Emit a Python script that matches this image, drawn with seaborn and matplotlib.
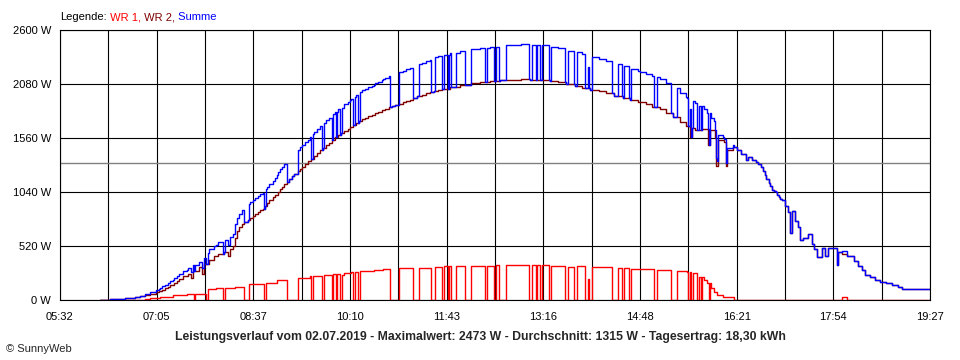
import numpy as np
import pandas as pd
import matplotlib
matplotlib.use("Agg")
import matplotlib.pyplot as plt
import seaborn as sns

# readings, step values (time -> watts)
wr2_times = [
    "06:10", "06:15", "06:20", "06:25", "06:30", "06:34", "06:40", "06:44", "06:49", "06:54",
    "06:58", "07:04", "07:07", "07:10", "07:13", "07:16", "07:18", "07:21", "07:24", "07:26",
    "07:30", "07:35", "07:38", "07:40", "07:45", "07:48", "07:50", "07:55", "08:00", "08:04",
    "08:09", "08:13", "08:15", "08:18", "08:20", "08:22", "08:24", "08:27", "08:29", "08:32",
    "08:34", "08:37", "08:39", "08:42", "08:44", "08:47", "08:49", "08:51", "08:53", "08:56",
    "08:58", "09:01", "09:03", "09:05", "09:07", "09:10", "09:12", "09:15", "09:17", "09:20",
    "09:22", "09:24", "09:27", "09:30", "09:33", "09:36", "09:39", "09:42", "09:44", "09:47",
    "09:50", "09:53", "09:56", "09:59", "10:02", "10:05", "10:08", "10:10", "10:13", "10:16",
    "10:19", "10:22", "10:25", "10:28", "10:31", "10:34", "10:37", "10:41", "10:44", "10:48",
    "10:51", "10:54", "10:57", "11:01", "11:04", "11:08", "11:11", "11:15", "11:19", "11:23",
    "11:27", "11:31", "11:35", "11:39", "11:46", "11:56", "12:06", "12:15", "12:25", "12:34",
    "12:44", "12:54", "13:03", "13:13", "13:22", "13:30", "13:38", "13:46", "13:53", "14:01",
    "14:09", "14:16", "14:24", "14:32", "14:39", "14:47", "14:54", "15:00", "15:08", "15:14",
    "15:20", "15:27", "15:33", "15:37", "15:39", "15:41", "15:48", "15:54", "15:56", "16:01",
    "16:02", "16:04", "16:09", "16:11", "16:12", "16:18", "16:22", "16:26", "16:30", "16:32",
    "16:36", "16:40", "16:42", "16:45", "16:47", "16:49", "16:50", "16:52", "16:53", "16:55",
    "16:57", "16:59", "17:00", "17:02", "17:03", "17:05", "17:08", "17:11", "17:13", "17:15",
    "17:17", "17:20", "17:22", "17:25", "17:30", "17:34", "17:36", "17:39", "17:43", "17:46",
    "17:49", "17:58", "17:59", "18:03", "18:07", "18:14", "18:18", "18:22", "18:25", "18:29",
    "18:34", "18:39", "18:45", "18:51", "18:56", "19:00", "19:06", "19:12",
]
wr2_watts = [
    0, 3, 6, 10, 14, 18, 24, 30, 36, 45,
    55, 75, 88, 100, 115, 130, 148, 165, 183, 200,
    230, 255, 215, 280, 315, 250, 350, 385, 420, 445,
    465, 420, 490, 520, 600, 660, 700, 735, 750, 770,
    790, 810, 830, 850, 865, 880, 905, 930, 960, 990,
    1015, 1040, 1065, 1090, 1115, 1140, 1165, 1190, 1215, 1240,
    1262, 1285, 1310, 1335, 1360, 1385, 1412, 1440, 1465, 1490,
    1515, 1540, 1565, 1590, 1610, 1630, 1650, 1670, 1688, 1705,
    1722, 1740, 1755, 1770, 1785, 1800, 1815, 1830, 1842, 1855,
    1868, 1880, 1892, 1905, 1918, 1930, 1945, 1960, 1975, 1990,
    2003, 2015, 2025, 2035, 2050, 2070, 2085, 2095, 2105, 2115,
    2120, 2125, 2120, 2115, 2110, 2095, 2080, 2065, 2045, 2025,
    2010, 1990, 1965, 1945, 1925, 1905, 1885, 1860, 1835, 1800,
    1760, 1710, 1680, 1570, 1660, 1640, 1645, 1490, 1640, 1560,
    1290, 1540, 1520, 1290, 1440, 1470, 1440, 1410, 1350, 1380,
    1350, 1330, 1305, 1280, 1240, 1200, 1165, 1130, 1095, 1060,
    1050, 1040, 1015, 990, 975, 960, 905, 850, 645, 860,
    760, 700, 578, 600, 640, 540, 490, 417, 500, 420,
    500, 340, 460, 440, 420, 380, 330, 290, 245, 222,
    195, 175, 160, 145, 125, 110, 105, 110,
]

wr1_times = [
    "06:54", "06:58", "07:08", "07:20", "07:34", "07:41", "07:42", "07:52", "07:54", "08:02",
    "08:08", "08:10", "08:20", "08:29", "08:33", "08:48", "08:50", "09:00", "09:10", "09:20",
    "09:32", "09:33", "09:35", "09:43", "09:45", "09:53", "09:54", "09:57", "09:58", "10:01",
    "10:03", "10:05", "10:11", "10:13", "10:15", "10:18", "10:20", "10:33", "10:42", "10:49",
    "10:57", "11:11", "11:17", "11:28", "11:32", "11:39", "11:41", "11:44", "11:45", "11:47",
    "11:52", "12:01", "12:06", "12:20", "12:22", "12:29", "12:30", "12:33", "12:40", "13:02",
    "13:05", "13:09", "13:10", "13:13", "13:15", "13:21", "13:23", "13:37", "13:40", "13:45",
    "13:48", "13:56", "13:59", "14:00", "14:03", "14:22", "14:28", "14:31", "14:33", "14:38",
    "14:40", "14:49", "15:02", "15:05", "15:18", "15:24", "15:34", "15:35", "15:37", "15:38",
    "15:40", "15:43", "15:45", "15:47", "15:48", "15:50", "15:53", "15:55", "15:56", "15:57",
    "16:00", "16:03", "16:08", "16:19", "18:03", "18:07",
]
wr1_watts = [
    10, 22, 32, 48, 55, 0, 55, 0, 103, 112,
    0, 112, 128, 0, 151, 0, 160, 193, 0, 209,
    234, 0, 234, 0, 241, 0, 247, 0, 247, 0,
    241, 257, 266, 0, 266, 0, 279, 289, 299, 0,
    305, 0, 311, 0, 321, 0, 327, 0, 327, 0,
    327, 0, 330, 0, 332, 0, 335, 0, 337, 0,
    337, 0, 337, 0, 337, 0, 327, 0, 321, 0,
    327, 0, 200, 0, 314, 0, 305, 0, 305, 0,
    299, 295, 0, 289, 0, 279, 270, 0, 270, 0,
    257, 0, 225, 0, 225, 193, 160, 0, 160, 112,
    80, 48, 26, 0, 30, 0,
]

day_start = "05:32"
day_end = "19:27"
x_labels = ["05:32", "07:05", "08:37", "10:10", "11:43", "13:16", "14:48", "16:21", "17:54", "19:27"]
y_ticks = [0, 520, 1040, 1560, 2080, 2600]
avg_watts = 1315
max_watts = 2473
yield_kwh = "18,30"
date_str = "02.07.2019"


def to_min(s):
    h, m = s.split(":")
    return int(h) * 60 + int(m)


t0, t1 = to_min(day_start), to_min(day_end)
wr1_min = [to_min(s) for s in wr1_times]
wr2_min = [to_min(s) for s in wr2_times]

# common time axis, values held until the next reading
grid = sorted(set(wr1_min) | set(wr2_min) | {t1})
wr1 = pd.Series(wr1_watts, index=wr1_min).reindex(grid, method="ffill").fillna(0)
wr2 = pd.Series(wr2_watts, index=wr2_min).reindex(grid, method="ffill")
summe = wr1 + wr2

df = pd.concat([
    pd.DataFrame({"t": grid, "W": wr1.values, "serie": "WR 1"}),
    pd.DataFrame({"t": grid, "W": wr2.values, "serie": "WR 2"}),
    pd.DataFrame({"t": grid, "W": summe.values, "serie": "Summe"}),
])

colors = {"WR 1": "#ff0000", "WR 2": "#800000", "Summe": "#0000ff"}

sns.set_style("white")
plt.rcParams["font.family"] = ["Liberation Sans", "DejaVu Sans"]
plt.rcParams["font.size"] = 8

fig = plt.figure(figsize=(9.6, 3.6), dpi=100)
ax = fig.add_axes([60 / 960, 60 / 360, 870 / 960, 270 / 360])

ax.axhline(avg_watts, color="#808080", lw=1.0, zorder=1.6)

sns.lineplot(
    data=df, x="t", y="W", hue="serie",
    hue_order=["WR 1", "WR 2", "Summe"], palette=colors,
    drawstyle="steps-post", estimator=None, legend=False,
    linewidth=1.0, ax=ax,
)

xt = [t0 + i * (t1 - t0) / 18 for i in range(19)]
ax.set_xticks(xt)
ax.set_xticklabels([x_labels[i // 2] if i % 2 == 0 else "" for i in range(19)])
ax.set_yticks(y_ticks)
ax.set_yticklabels([f"{v} W" for v in y_ticks])
ax.set_xlim(t0, t1)
ax.set_ylim(0, 2600)
ax.set_xlabel("")
ax.set_ylabel("")

ax.grid(True, color="black", lw=0.8)
for s in ax.spines.values():
    s.set_color("black")
    s.set_linewidth(0.8)
ax.tick_params(axis="both", direction="out", length=3.5, width=0.8, color="black",
               labelsize=8, labelcolor="black")
ax.tick_params(axis="x", pad=5)
ax.tick_params(axis="y", pad=3)

# legend line at the top
t = fig.text(60 / 960, 1 - 17 / 360, "Legende:", va="center", ha="left", color="black")
for txt, key in [(" WR 1,", "WR 1"), (" WR 2,", "WR 2"), (" Summe", "Summe")]:
    t = ax.annotate(txt, xy=(1, 0), xycoords=t, va="bottom", ha="left", color=colors[key],
                    annotation_clip=False)

fig.text(0.5, 1 - 337 / 360,
         f"Leistungsverlauf vom {date_str} - Maximalwert: {max_watts} W - "
         f"Durchschnitt: {avg_watts} W - Tagesertrag: {yield_kwh} kWh",
         ha="center", va="center", fontweight="bold", fontsize=8.8)
fig.text(6 / 960, 1 - 349 / 360, "\u00a9 SunnyWeb", ha="left", va="center", fontsize=8)

fig.savefig("out.png", dpi=100, facecolor="white")
